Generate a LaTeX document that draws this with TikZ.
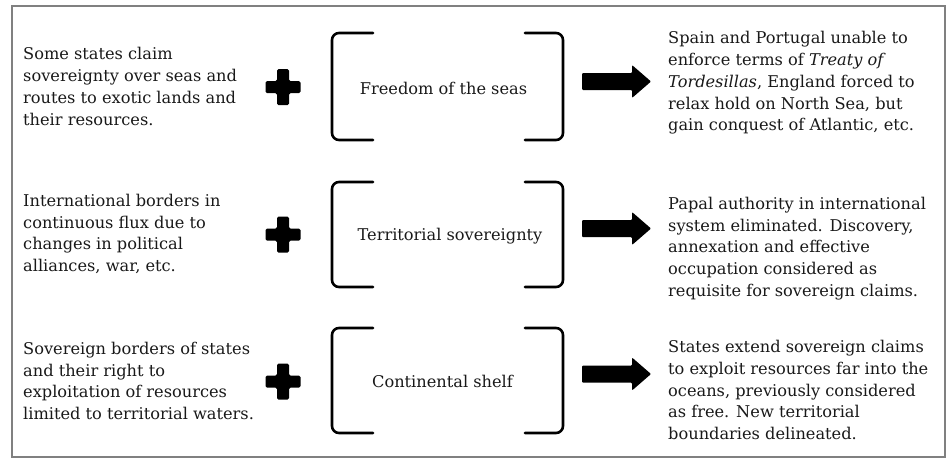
\documentclass[tikz,border=0pt]{standalone}
\usepackage{fontspec}
\setmainfont{DejaVu Serif}
\begin{document}
\begin{tikzpicture}[x=1pt,y=-1pt,
  txt/.style={anchor=west,inner sep=0pt,align=left,font=\fontsize{16.2}{21.8}\selectfont,text=black!90},
  lbl/.style={inner sep=0pt,font=\fontsize{16.2}{21}\selectfont,text=black!90},
  brk/.style={line width=2.6pt,rounded corners=7pt,line cap=round},
  frame/.style={draw=black!50,line width=2pt}]
\useasboundingbox (0,0) rectangle (948,459);
\draw[frame] (12,6) rectangle (945,457);
% plus and arrow shapes
\newcommand{\plusat}[2]{\fill[rounded corners=1.5pt] (#1-6,#2-18) -- (#1+6,#2-18) -- (#1+6,#2-6) -- (#1+17.5,#2-6) -- (#1+17.5,#2+6) -- (#1+6,#2+6) -- (#1+6,#2+18) -- (#1-6,#2+18) -- (#1-6,#2+6) -- (#1-17.5,#2+6) -- (#1-17.5,#2-6) -- (#1-6,#2-6) -- cycle;}
\newcommand{\arrowat}[1]{\fill[rounded corners=1pt] (582,#1-8.5) -- (632,#1-8.5) -- (632,#1-16.5) -- (651,#1) -- (632,#1+16.5) -- (632,#1+8.5) -- (582,#1+8.5) -- cycle;}
\newcommand{\bracketsat}[2]{%
  \draw[brk] (373,#1) -- (332,#1) -- (332,#2) -- (373,#2);
  \draw[brk] (525,#1) -- (563,#1) -- (563,#2) -- (525,#2);}
% row 1
\node[txt] (l1) at (23,86.5) {Some states claim\\sovereignty over seas and\\routes to exotic lands and\\their resources.};
\plusat{283}{87}
\bracketsat{33}{140}
\node[lbl] (c1) at (443.5,88) {Freedom of the seas};
\arrowat{81.5}
\node[txt] (r1) at (668,83) {Spain and Portugal unable to\\enforce terms of \textit{Treaty of}\\\textit{Tordesillas}, England forced to\\relax hold on North Sea, but\\gain conquest of Atlantic, etc.};
% row 2
\node[txt] (l2) at (23,234) {International borders in\\continuous flux due to\\changes in political\\alliances, war, etc.};
\plusat{283}{234.5}
\bracketsat{182}{287}
\node[lbl] (c2) at (450,236) {Territorial sovereignty};
\arrowat{228.5}
\node[txt] (r2) at (668,248.5) {Papal authority in international\\system eliminated. Discovery,\\annexation and effective\\occupation considered as\\requisite for sovereign claims.};
% row 3
\node[txt] (l3) at (23,381) {Sovereign borders of states\\and their right to\\exploitation of resources\\limited to territorial waters.};
\plusat{283}{381.5}
\bracketsat{328}{433}
\node[lbl] (c3) at (442.5,381) {Continental shelf};
\arrowat{374}
\node[txt] (r3) at (668,390) {States extend sovereign claims\\to exploit resources far into the\\oceans, previously considered\\as free. New territorial\\boundaries delineated.};
\end{tikzpicture}
\end{document}
